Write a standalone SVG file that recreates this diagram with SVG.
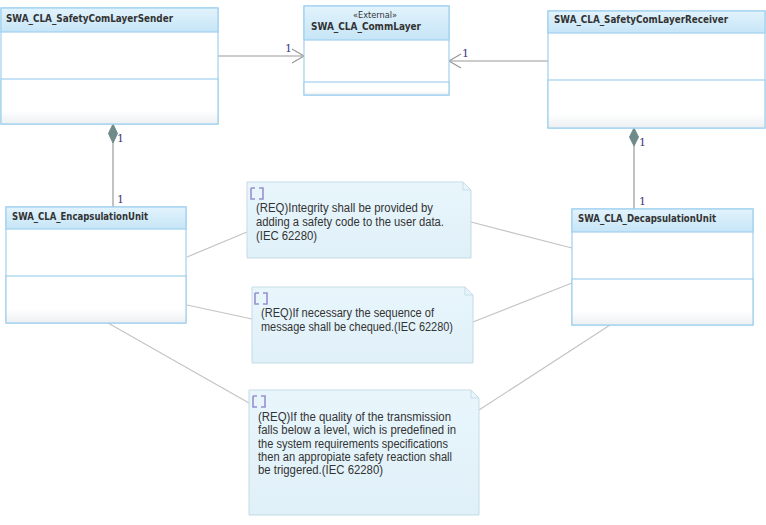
<svg xmlns="http://www.w3.org/2000/svg" width="766" height="525" viewBox="0 0 766 525">
<defs>
<linearGradient id="hdr" x1="0" y1="0" x2="0" y2="1"><stop offset="0" stop-color="#e2f3fc"/><stop offset="1" stop-color="#c6e5f7"/></linearGradient>
<linearGradient id="low" x1="0" y1="0" x2="0" y2="1"><stop offset="0" stop-color="#ffffff"/><stop offset="0.7" stop-color="#ffffff"/><stop offset="1" stop-color="#eceff1"/></linearGradient>
<linearGradient id="note" x1="0" y1="0" x2="0" y2="1"><stop offset="0" stop-color="#e8f6fc"/><stop offset="1" stop-color="#e0f0f8"/></linearGradient>
<g id="reqicon"><path d="M0,0 h4 M0,0 v11 h4 M8,0 h4 v11 h-4" fill="none" stroke="#9a8fd0" stroke-width="1.6"/></g>
</defs>
<style>
.box{fill:#ffffff;stroke:#9fd0ee;stroke-width:1.2}
.hd{fill:url(#hdr);stroke:#9fd0ee;stroke-width:1.2}
.lo{fill:url(#low);stroke:#9fd0ee;stroke-width:1.2}
.ttl{font-family:"DejaVu Sans","Liberation Sans",sans-serif;font-weight:bold;font-size:10.5px;fill:#333}
.ster{font-family:"DejaVu Sans","Liberation Sans",sans-serif;font-size:9.5px;fill:#333}
.nt{fill:url(#note);stroke:#c5dbe5;stroke-width:1}
.ntx{font-family:"Liberation Sans","DejaVu Sans",sans-serif;font-size:12.5px;fill:#333}
.m{font-family:"DejaVu Serif","Liberation Serif",serif;font-size:11px;fill:#3b3b80}
.ln{fill:none;stroke:#999999;stroke-width:1.2}
.an{fill:none;stroke:#c4c4c4;stroke-width:1.2}
</style>
<g id="connectors">
<line class="ln" x1="218" y1="56" x2="304" y2="56"/>
<path class="ln" d="M292,49 L304,56 L292,63"/>
<line class="ln" x1="548" y1="61" x2="449" y2="61"/>
<path class="ln" d="M461,54 L449,61 L461,68"/>
<line class="ln" x1="113" y1="142" x2="113" y2="207"/>
<path d="M113,124 L117.5,133.5 L113,143 L108.5,133.5 Z" fill="#6e8a8a" stroke="#6e8a8a"/>
<line class="ln" x1="634" y1="145" x2="634" y2="209"/>
<path d="M634,128 L638.5,137 L634,146 L629.5,137 Z" fill="#6e8a8a" stroke="#6e8a8a"/>
<line class="an" x1="187" y1="257" x2="247" y2="232"/>
<line class="an" x1="471" y1="222" x2="572" y2="248"/>
<line class="an" x1="187" y1="305" x2="252" y2="319"/>
<line class="an" x1="473" y1="322" x2="572" y2="283"/>
<line class="an" x1="108" y1="323" x2="249" y2="403"/>
<line class="an" x1="479" y1="410" x2="610" y2="325"/>
<text class="m" x="285" y="52">1</text>
<text class="m" x="462" y="57">1</text>
<text class="m" x="117" y="142">1</text>
<text class="m" x="117" y="203">1</text>
<text class="m" x="639" y="146">1</text>
<text class="m" x="639" y="205">1</text>
</g>
<g id="sender">
<rect class="box" x="1" y="8" width="217" height="116"/>
<rect class="hd" x="1" y="8" width="217" height="24"/>
<rect class="lo" x="1" y="79" width="217" height="45"/>
<text class="ttl" x="6" y="22" textLength="167" lengthAdjust="spacingAndGlyphs">SWA_CLA_SafetyComLayerSender</text>
</g>
<g id="commlayer">
<rect class="box" x="304" y="6" width="145" height="89"/>
<rect class="hd" x="304" y="6" width="145" height="34"/>
<rect class="lo" x="304" y="82" width="145" height="13"/>
<text class="ster" x="375" y="18" text-anchor="middle" textLength="44" lengthAdjust="spacingAndGlyphs">«External»</text>
<text class="ttl" x="311" y="30" textLength="110" lengthAdjust="spacingAndGlyphs">SWA_CLA_CommLayer</text>
</g>
<g id="receiver">
<rect class="box" x="548" y="11" width="217" height="117"/>
<rect class="hd" x="548" y="11" width="217" height="22"/>
<rect class="lo" x="548" y="80" width="217" height="48"/>
<text class="ttl" x="554" y="23" textLength="174" lengthAdjust="spacingAndGlyphs">SWA_CLA_SafetyComLayerReceiver</text>
</g>
<g id="encapsulation">
<rect class="box" x="6" y="207" width="180" height="116"/>
<rect class="hd" x="6" y="207" width="180" height="22"/>
<rect class="lo" x="6" y="276" width="180" height="47"/>
<text class="ttl" x="12" y="220" textLength="136" lengthAdjust="spacingAndGlyphs">SWA_CLA_EncapsulationUnit</text>
</g>
<g id="decapsulation">
<rect class="box" x="572" y="209" width="181" height="116"/>
<rect class="hd" x="572" y="209" width="181" height="23"/>
<rect class="lo" x="572" y="279" width="181" height="46"/>
<text class="ttl" x="578" y="222" textLength="138" lengthAdjust="spacingAndGlyphs">SWA_CLA_DecapsulationUnit</text>
</g>
<g id="note1">
<path class="nt" d="M247,182 H463 L471,190 V258 H247 Z"/>
<path d="M463,182 V190 H471" fill="none" stroke="#c5dbe5"/>
<use href="#reqicon" x="251" y="188"/>
<text class="ntx" x="256" y="212" textLength="177" lengthAdjust="spacingAndGlyphs">(REQ)Integrity shall be provided by</text>
<text class="ntx" x="256" y="226" textLength="188" lengthAdjust="spacingAndGlyphs">adding a safety code to the user data.</text>
<text class="ntx" x="256" y="240" textLength="61" lengthAdjust="spacingAndGlyphs">(IEC 62280)</text>
</g>
<g id="note2">
<path class="nt" d="M252,287 H465 L473,295 V363 H252 Z"/>
<path d="M465,287 V295 H473" fill="none" stroke="#c5dbe5"/>
<use href="#reqicon" x="255" y="293"/>
<text class="ntx" x="261" y="317" textLength="173" lengthAdjust="spacingAndGlyphs">(REQ)If necessary the sequence of</text>
<text class="ntx" x="261" y="331" textLength="192" lengthAdjust="spacingAndGlyphs">message shall be chequed.(IEC 62280)</text>
</g>
<g id="note3">
<path class="nt" d="M249,390 H471 L479,398 V515 H249 Z"/>
<path d="M471,390 V398 H479" fill="none" stroke="#c5dbe5"/>
<use href="#reqicon" x="253" y="396"/>
<text class="ntx" x="258" y="421" textLength="193" lengthAdjust="spacingAndGlyphs">(REQ)If the quality of the transmission</text>
<text class="ntx" x="258" y="434" textLength="198" lengthAdjust="spacingAndGlyphs">falls below a level, wich is predefined in</text>
<text class="ntx" x="258" y="448" textLength="190" lengthAdjust="spacingAndGlyphs">the system requirements specifications</text>
<text class="ntx" x="258" y="461" textLength="194" lengthAdjust="spacingAndGlyphs">then an appropiate safety reaction shall</text>
<text class="ntx" x="258" y="474" textLength="125" lengthAdjust="spacingAndGlyphs">be triggered.(IEC 62280)</text>
</g>
</svg>
